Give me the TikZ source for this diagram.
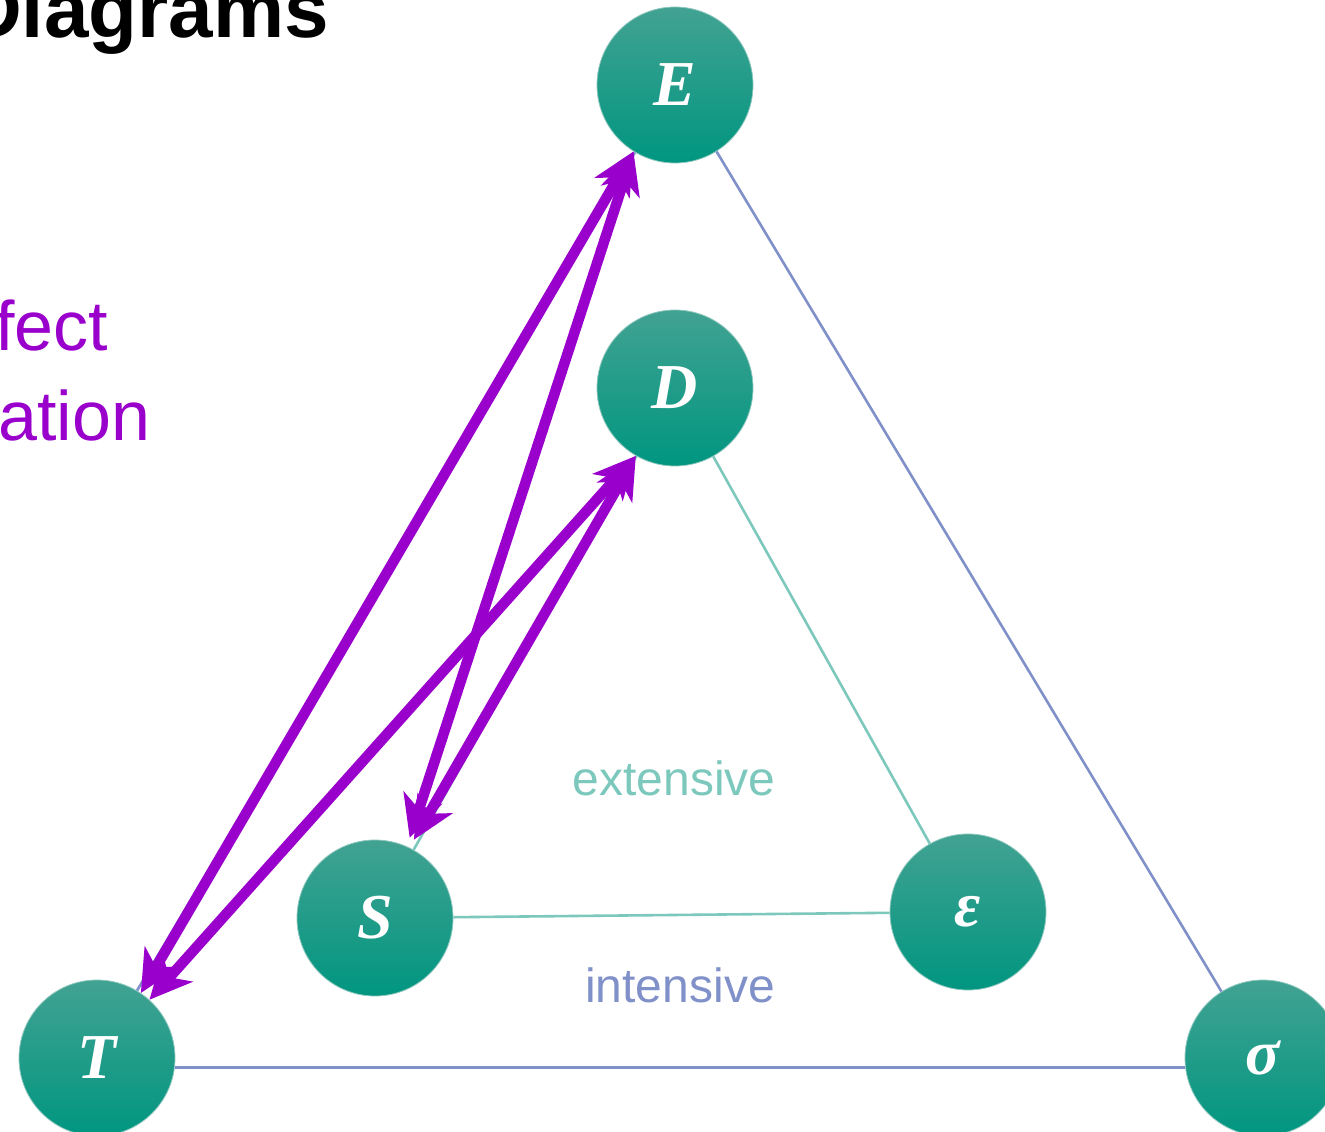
\documentclass[tikz,border=0pt]{standalone}
\usepackage{fontspec}
\setmainfont{Liberation Sans}
\newfontfamily\symfont{Liberation Serif}
\usetikzlibrary{arrows.meta,positioning,calc}
\definecolor{vertfonce}{RGB}{0,150,128}
\definecolor{vertclair}{RGB}{66,162,146}
\definecolor{mauve}{RGB}{153,0,204}
\definecolor{bleugris}{RGB}{128,144,200}
\definecolor{vertpale}{RGB}{125,200,188}

\begin{document}
\begin{tikzpicture}[x=1pt, y=-1pt,
    etat/.style={circle, minimum size=156pt, inner sep=0pt,
      top color=vertclair, bottom color=vertfonce, draw=vertclair!60!white,
      line width=0.8pt, text=white,
      font=\symfont\bfseries\itshape\fontsize{64}{64}\selectfont},
    lien/.style={line width=2.6pt},
    fleche/.style={mauve, line width=10.5pt,
      {Stealth[length=42pt,width=40pt,inset=12pt]}-{Stealth[length=42pt,width=40pt,inset=12pt]}}]
  \clip (0,0) rectangle (1325,1132);
  \useasboundingbox (0,0) rectangle (1325,1132);
  % Titre et texte coupes
  \node[anchor=base west, inner sep=0pt, font=\bfseries\fontsize{80}{80}\selectfont] (titre) at (-36,38) {Diagrams};
  \node[anchor=base west, inner sep=0pt, mauve, font=\fontsize{70}{70}\selectfont] (ligneA) at (-5,350) {fect};
  \node[anchor=base west, inner sep=0pt, mauve, font=\fontsize{70}{70}\selectfont] (ligneB) at (-2,440) {ation};
  % Etats
  \node[etat] (E) at (675,85) {E};
  \node[etat] (D) at (675,388) {D};
  \node[etat] (S) at (375,918) {S};
  \node[etat] (eps) at (968,912) {ε};
  \node[etat] (T) at (97,1058) {T};
  \node[etat] (sig) at (1263,1058) {σ};
  % Triangle exterieur (intensif)
  \draw[lien, bleugris] (E) -- (T);
  \draw[lien, bleugris] (E.-58) -- (sig.122);
  \draw[lien, bleugris] (T.-7) -- (sig.187);
  % Triangle interieur (extensif)
  \draw[lien, vertpale] (D) -- (S);
  \draw[lien, vertpale] (D) -- (eps);
  \draw[lien, vertpale] (S) -- (eps);
  \node[vertpale, font=\fontsize{48}{48}\selectfont] (ext) at (674,778) {extensive};
  \node[bleugris, font=\fontsize{48}{48}\selectfont] (int) at (680,985) {intensive};
  % Fleches
  \draw[fleche] (T.56) -- (E.238);
  \draw[fleche] (T.48) -- (D.240);
  \draw[fleche, shorten <=9pt] (S.66) -- (E.238);
  \draw[fleche, shorten <=9pt] (S.64) -- (D.240);
\end{tikzpicture}
\end{document}
